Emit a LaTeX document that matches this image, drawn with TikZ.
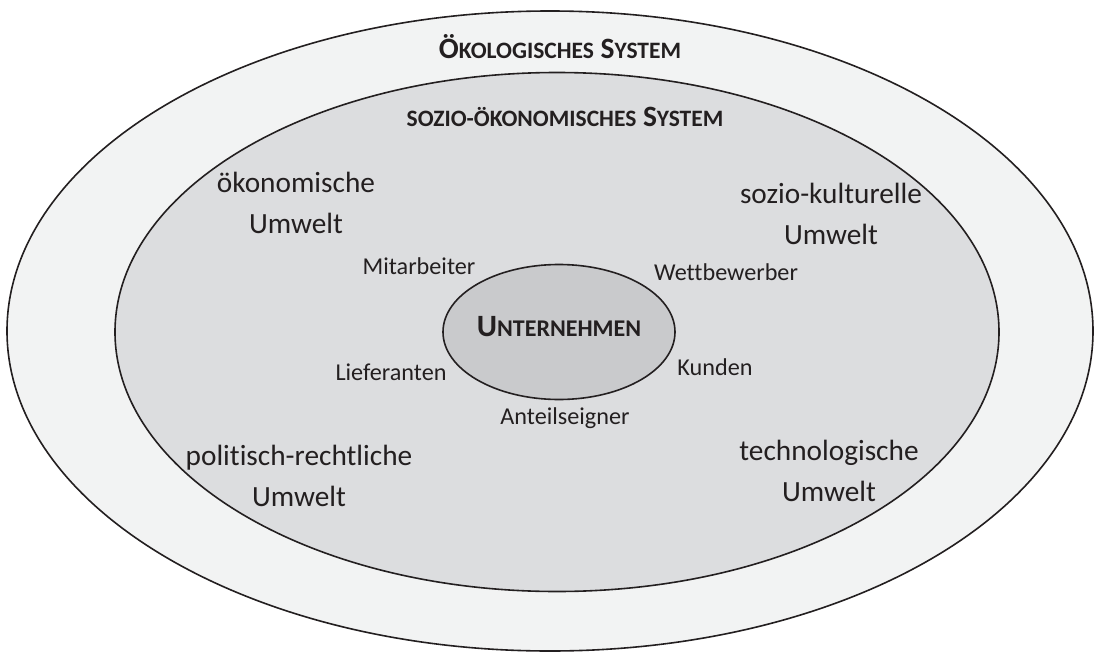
\documentclass[tikz,border=0pt]{standalone}
\usepackage{fontspec}
\setmainfont{Carlito}[Ligatures=NoCommon]
\usepackage{tikz}
\usetikzlibrary{ shapes.geometric, positioning }
\definecolor{ink}{HTML}{231F20}
\definecolor{oekofill}{HTML}{F2F3F3}
\definecolor{soziofill}{HTML}{DCDDDF}
\definecolor{unfill}{HTML}{C9CACC}
\newcommand{\kl}{\fontsize{23.5}{26}\selectfont}% fake small caps
\tikzset{
x=1pt, y=-1pt, % one unit is one pixel of the sketch
ring/.style={ellipse, draw=ink, line width=1.6pt, inner sep=0pt}, % the three systems
head/.style={text=ink, font=\fontsize{29.5}{32}\selectfont\bfseries},
umwelt/.style={text=ink, align=center, font=\fontsize{29.3}{41}\selectfont},
partner/.style={text=ink, font=\fontsize{24.2}{28}\selectfont},
}
\begin{document}
\begin{tikzpicture}
  \useasboundingbox (0,0) rectangle (1098,653);
  \node[ring, fill=oekofill, minimum width=1086pt, minimum height=640pt] (oeko) at (550,331) {};
  \node[ring, fill=soziofill, minimum width=884pt, minimum height=519pt] (sozio) at (557,332) {};
  \node[ring, fill=unfill, minimum width=232pt, minimum height=135pt] (unt) at (559,332) {};

  \node[head] (oekotitle) at (560,47) {Ö{\kl KOLOGISCHES} S{\kl YSTEM}};
  \node[head] (soziotitle) at (565,117) {{\kl SOZIO-ÖKONOMISCHES} S{\kl YSTEM}};
  \node[head, font=\fontsize{31}{34}\selectfont\bfseries] (unttitle) at (unt.center) [yshift=5pt] {U{\fontsize{24}{26}\selectfont NTERNEHMEN}};

  \node[umwelt] (oekonom) at (296,203) {ökonomische\\Umwelt};
  \node[umwelt] (kultur) at (831,214) {sozio-kulturelle\\Umwelt};
  \node[umwelt] (politik) at (299,476) {politisch-rechtliche\\Umwelt};
  \node[umwelt] (technik) at (829,471) {technologische\\Umwelt};

  \node[partner] (mitarb) at (419,266) {Mitarbeiter};
  \node[partner] (wettb) at (726,272) {Wettbewerber};
  \node[partner] (liefer) at (391,372) {Lieferanten};
  \node[partner] (kunden) at (715,367) {Kunden};
  \node[partner] (anteil) at (565,418) {Anteilseigner};
\end{tikzpicture}
\end{document}
